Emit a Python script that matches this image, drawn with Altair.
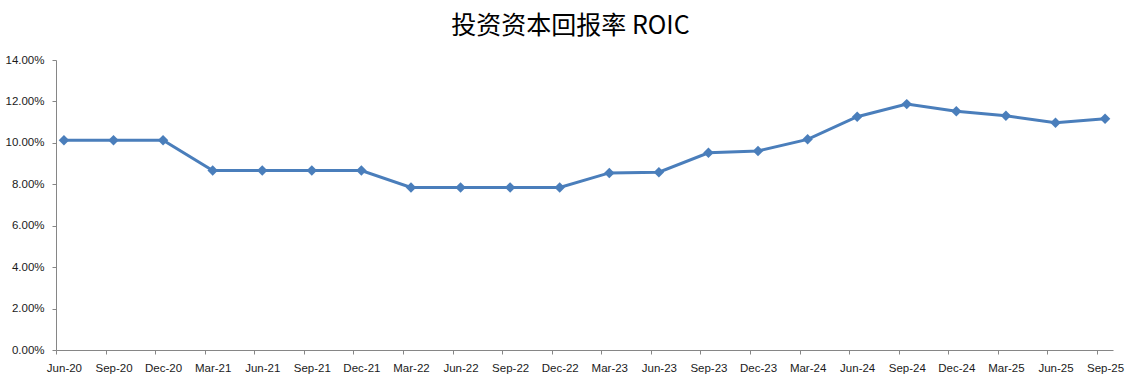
import altair as alt
import pandas as pd

periods = ["Jun-20", "Sep-20", "Dec-20", "Mar-21", "Jun-21", "Sep-21", "Dec-21",
           "Mar-22", "Jun-22", "Sep-22", "Dec-22", "Mar-23", "Jun-23", "Sep-23",
           "Dec-23", "Mar-24", "Jun-24", "Sep-24", "Dec-24", "Mar-25", "Jun-25", "Sep-25"]
roic = [0.1013, 0.1013, 0.1013, 0.0866, 0.0866, 0.0866, 0.0866,
        0.0785, 0.0785, 0.0785, 0.0785, 0.0855, 0.0858, 0.0952,
        0.0961, 0.1017, 0.1126, 0.1187, 0.1153, 0.1131, 0.1097, 0.1116]
y_ticks = [0, 0.02, 0.04, 0.06, 0.08, 0.10, 0.12, 0.14]

df = pd.DataFrame({"period": periods, "roic": roic})

color = "#4A7EBB"
axis_color = "#868686"
font = "Liberation Sans"

x = alt.X("period:N", sort=None, title=None,
          scale=alt.Scale(type="point", padding=0.16),
          axis=alt.Axis(labelAngle=0, tickOffset=-8, labelOffset=8,
                        tickSize=4, labelPadding=8, domainColor=axis_color,
                        tickColor=axis_color, labelColor="#1a1a1a",
                        labelFont=font, labelFontSize=11.5, grid=False))
y = alt.Y("roic:Q", title=None,
          scale=alt.Scale(domain=[0, 0.14], nice=False),
          axis=alt.Axis(values=y_ticks, format=".2%", tickSize=4, labelPadding=8,
                        domainColor=axis_color, tickColor=axis_color,
                        labelColor="#1a1a1a", labelFont=font, labelFontSize=11.5,
                        grid=False))

base = alt.Chart(df).encode(x=x, y=y)
line = base.mark_line(color=color, strokeWidth=3)
pts = base.mark_point(shape="diamond", filled=True, color=color, size=110, opacity=1)

chart = (line + pts).properties(
    width=1057, height=290,
    title=alt.TitleParams("投资资本回报率 ROIC", font="Noto Sans CJK SC", fontSize=25,
                          fontWeight="normal", color="#000000", anchor="middle",
                          dx=-14, offset=15),
    autosize=alt.AutoSizeParams(type="none"),
    padding={"left": 56, "top": 60, "right": 24, "bottom": 41},
).configure(background="white", view=alt.ViewConfig(strokeWidth=0))

chart.save("out.html", embed_options={"renderer": "svg", "actions": False})
